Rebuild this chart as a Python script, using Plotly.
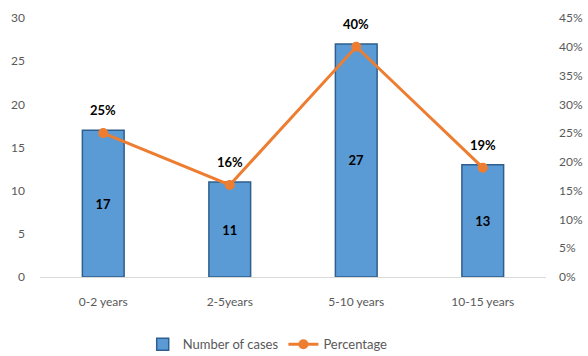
import plotly.graph_objects as go

categories = ["0-2 years", "2-5years", "5-10 years", "10-15 years"]
cases = [17, 11, 27, 13]
percentages = [25, 16, 40, 19]
left_ticks = [0, 5, 10, 15, 20, 25, 30]
right_ticks = [0, 5, 10, 15, 20, 25, 30, 35, 40, 45]

FONT = "Lato, 'Liberation Sans', Arial, sans-serif"
TICK_COLOR = "#595959"

fig = go.Figure()
fig.add_trace(go.Bar(
    x=categories, y=cases, name="Number of cases",
    marker=dict(color="#5B9BD5", line=dict(color="#2E5F8F", width=1.5)),
    text=[str(v) for v in cases], textposition="inside", insidetextanchor="middle",
    textfont=dict(family=FONT, size=13, color="#000000", weight="bold"),
    textangle=0,
))
fig.add_trace(go.Scatter(
    x=categories, y=[p / 100 for p in percentages], name="Percentage", yaxis="y2",
    mode="lines+markers",
    line=dict(color="#ED7D31", width=3),
    marker=dict(color="#ED7D31", size=10),
))
for c, p in zip(categories, percentages):
    fig.add_annotation(x=c, y=p / 100, yref="y2", text=f"<b>{p}%</b>", showarrow=False,
                       yshift=23, font=dict(family=FONT, size=13, color="#000000"))

fig.update_layout(
    width=588, height=356,
    margin=dict(l=40, r=42, t=18, b=79, autoexpand=False),
    paper_bgcolor="white", plot_bgcolor="white",
    font=dict(family=FONT, size=12, color=TICK_COLOR),
    bargap=0.67,
    showlegend=True,
    legend=dict(orientation="h", x=0.45, xanchor="center", y=-0.26, yanchor="middle",
                font=dict(family=FONT, size=13, color=TICK_COLOR), itemwidth=30,
                tracegroupgap=0),
    xaxis=dict(showgrid=False, showline=True, linecolor="#D9D9D9", linewidth=1,
               ticks="", tickfont=dict(size=12, color=TICK_COLOR), ticklabelstandoff=14,
               automargin=False),
    yaxis=dict(range=[0, 30], tickvals=left_ticks, showgrid=False, zeroline=False,
               showline=False, tickfont=dict(size=12, color=TICK_COLOR), ticklabelstandoff=14,
               automargin=False),
    yaxis2=dict(range=[0, 0.45], tickvals=[t / 100 for t in right_ticks],
                ticktext=[f"{t}%" for t in right_ticks], overlaying="y", side="right",
                showgrid=False, zeroline=False, showline=False,
                tickfont=dict(size=12, color=TICK_COLOR), ticklabelstandoff=12,
                automargin=False),
)

fig.write_html("out.html")
